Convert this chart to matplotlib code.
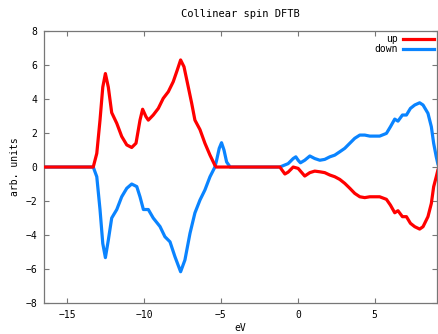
import numpy as np
import matplotlib
matplotlib.use("Agg")
import matplotlib.pyplot as plt

# spin-up DOS
e_up = [-16.5, -13.3, -13.07, -12.86, -12.68, -12.51, -12.32, -12.1, -11.77, -11.45,
        -11.12, -10.8, -10.52, -10.26, -10.09, -9.87, -9.72, -9.4, -9.07, -8.75,
        -8.42, -8.1, -7.84, -7.62, -7.4, -7.12, -6.9, -6.69, -6.36, -6.04,
        -5.71, -5.39, -5.3, -1.17, -0.84, -0.63, -0.3, 0.02, 0.45, 0.78,
        1.1, 1.43, 1.75, 2.08, 2.4, 2.73, 3.05, 3.38, 3.7, 4.03,
        4.35, 4.68, 5.32, 5.76, 6.02, 6.3, 6.51, 6.8, 7.06, 7.32,
        7.6, 7.92, 8.14, 8.46, 8.68, 8.83, 9.0, 9.1]
dos_up = [0, 0, 0.8, 2.76, 4.7, 5.5, 4.7, 3.2, 2.57, 1.8,
          1.3, 1.15, 1.4, 2.76, 3.4, 2.96, 2.76, 3.06, 3.45, 4.04,
          4.43, 5.02, 5.7, 6.3, 5.9, 4.7, 3.75, 2.76, 2.2, 1.4,
          0.7, 0.1, 0, 0, -0.41, -0.3, 0, -0.08, -0.53, -0.33,
          -0.24, -0.28, -0.33, -0.47, -0.57, -0.73, -0.96, -1.25, -1.55, -1.75,
          -1.8, -1.75, -1.75, -1.9, -2.24, -2.69, -2.57, -2.92, -2.92, -3.31,
          -3.51, -3.65, -3.51, -2.92, -2.14, -1.16, -0.57, -0.2]

# spin-down DOS
e_down = [-16.5, -13.3, -13.07, -12.86, -12.68, -12.51, -12.32, -12.1, -11.77, -11.45,
          -11.12, -10.8, -10.47, -10.26, -10.04, -9.72, -9.4, -8.96, -8.64, -8.31,
          -7.99, -7.62, -7.34, -7.01, -6.69, -6.36, -6.04, -5.71, -5.39, -5.28,
          -5.11, -4.96, -4.8, -4.63, -4.4, -1.17, -0.63, -0.3, -0.13, 0.02,
          0.17, 0.45, 0.78, 1.1, 1.43, 1.75, 2.08, 2.4, 2.73, 3.05,
          3.38, 3.7, 4.03, 4.35, 4.68, 5.32, 5.76, 6.02, 6.3, 6.51,
          6.8, 7.06, 7.32, 7.6, 7.92, 8.14, 8.46, 8.68, 8.83, 9.0, 9.1]
dos_down = [0, 0, -0.57, -2.5, -4.5, -5.33, -4.3, -3.0, -2.5, -1.75,
            -1.25, -1.0, -1.15, -1.75, -2.5, -2.5, -3.0, -3.5, -4.1, -4.4,
            -5.27, -6.16, -5.47, -3.9, -2.7, -1.94, -1.35, -0.57, 0, 0.4,
            1.1, 1.43, 1.0, 0.3, 0, 0, 0.2, 0.5, 0.6, 0.4,
            0.25, 0.4, 0.65, 0.5, 0.4, 0.45, 0.6, 0.7, 0.9, 1.1,
            1.4, 1.69, 1.88, 1.88, 1.82, 1.82, 1.98, 2.37, 2.82, 2.7,
            3.06, 3.06, 3.45, 3.65, 3.78, 3.65, 3.16, 2.37, 1.4, 0.6, 0.2]

xticks = [-15, -10, -5, 0, 5]
yticks = [-8, -6, -4, -2, 0, 2, 4, 6, 8]

plt.rcParams['font.family'] = 'DejaVu Sans Mono'
plt.rcParams['font.size'] = 7

fig = plt.figure(figsize=(4.38, 3.34), dpi=100)
ax = fig.add_axes([0.1005, 0.0928, 0.898, 0.8142])

ln_down, = ax.plot(e_down, dos_down, color='#0a84ff', lw=2.3, label='down',
                   zorder=2, solid_joinstyle='round')
ln_up, = ax.plot(e_up, dos_up, color='#ff0000', lw=2.3, label='up',
                 zorder=3, solid_joinstyle='round')

ax.set_xlim(-16.5, 9.07)
ax.set_ylim(-8, 8)
ax.set_xticks(xticks)
ax.set_yticks(yticks)
ax.set_xticklabels([str(t).replace('-', '\u2212') for t in xticks])
ax.set_yticklabels([str(t).replace('-', '\u2212') for t in yticks])
ax.tick_params(direction='in', length=3.5, width=0.8, color='#777777',
               top=True, right=True, pad=5)
for s in ax.spines.values():
    s.set_color('#777777')
    s.set_linewidth(0.9)

ax.set_title('Collinear spin DFTB', fontsize=7.5, pad=10)
ax.set_xlabel('eV', labelpad=2)
ax.set_ylabel('arb. units', labelpad=4)

leg = ax.legend(handles=[ln_up, ln_down], loc='upper right', frameon=False,
                markerfirst=False, handlelength=3.2, handletextpad=0.6,
                labelspacing=0.0, borderaxespad=0.0, borderpad=0.3,
                fontsize=7)
for t in leg.get_texts():
    t.set_ha('right')

fig.savefig('out.png', dpi=100)
